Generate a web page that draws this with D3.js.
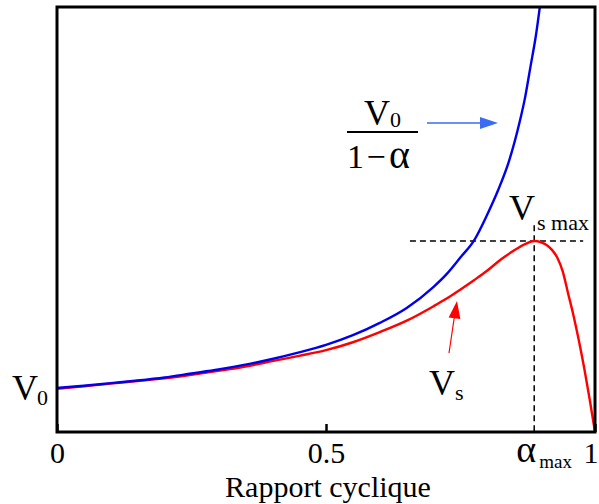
<!DOCTYPE html>
<html>
<head>
<meta charset="utf-8">
<script src="https://cdn.jsdelivr.net/npm/d3@7/dist/d3.min.js"></script>
<style>
  html, body { margin: 0; padding: 0; background: #fff; }
  svg { display: block; }
  text { font-family: "Liberation Serif", "Times New Roman", Times, serif; fill: #000; }
</style>
</head>
<body>
<svg id="chart" width="599" height="504"></svg>
<script>
// ---- Data (duty cycle alpha, output voltage in units of V0) ----
const alphaIdeal = [0, 0.05, 0.1, 0.15, 0.2, 0.25, 0.3, 0.35, 0.4, 0.45, 0.5, 0.55, 0.6, 0.65, 0.7, 0.725, 0.75, 0.775, 0.8, 0.82, 0.84, 0.86, 0.87, 0.88, 0.89, 0.9];
const vIdeal      = [1.0, 1.05, 1.11, 1.17, 1.24, 1.33, 1.42, 1.53, 1.66, 1.81, 1.98, 2.2, 2.48, 2.82, 3.3, 3.6, 3.97, 4.35, 4.95, 5.5, 6.15, 7.05, 7.6, 8.3, 9.0, 9.9];

const alphaReal = [0, 0.05, 0.1, 0.15, 0.2, 0.25, 0.3, 0.35, 0.4, 0.45, 0.5, 0.55, 0.6, 0.65, 0.7, 0.725, 0.75, 0.775, 0.8, 0.825, 0.85, 0.87, 0.887, 0.9, 0.91, 0.92, 0.93, 0.94, 0.95, 0.96, 0.97, 0.98, 0.99, 1.0];
const vReal      = [0.98, 1.04, 1.1, 1.16, 1.22, 1.3, 1.39, 1.49, 1.61, 1.73, 1.86, 2.04, 2.27, 2.53, 2.86, 3.04, 3.24, 3.45, 3.67, 3.92, 4.13, 4.27, 4.34, 4.31, 4.25, 4.14, 3.96, 3.65, 3.15, 2.65, 2.08, 1.45, 0.75, 0];

const xTicks = [0, 0.5, 1];
const xTickLabels = ["0", "0.5", "1"];
const alphaMax = 0.887;
const vsMax = 4.34;
const yMax = 9.66;

// ---- Layout ----
const plotL = 57, plotR = 595, plotT = 7, plotB = 432;
const svg = d3.select("#chart");
const x = d3.scaleLinear().domain([0, 1]).range([plotL, plotR]);
const y = d3.scaleLinear().domain([0, yMax]).range([plotB, plotT]);

svg.append("defs").append("clipPath").attr("id", "plotclip")
  .append("rect").attr("x", plotL).attr("y", plotT).attr("width", plotR - plotL).attr("height", plotB - plotT);

// dashed guides for max
svg.append("line")
  .attr("x1", x(0.656)).attr("x2", x(0.978))
  .attr("y1", y(vsMax)).attr("y2", y(vsMax))
  .attr("stroke", "#000").attr("stroke-width", 1.5).attr("stroke-dasharray", "6,4");
svg.append("line")
  .attr("x1", x(alphaMax)).attr("x2", x(alphaMax))
  .attr("y1", y(4.7)).attr("y2", y(0))
  .attr("stroke", "#000").attr("stroke-width", 1.5).attr("stroke-dasharray", "6,4");

const lineGen = d3.line().curve(d3.curveMonotoneX);
const gPlot = svg.append("g").attr("clip-path", "url(#plotclip)");

gPlot.append("path")
  .attr("d", lineGen(alphaReal.map((a, i) => [x(a), y(vReal[i])])))
  .attr("fill", "none").attr("stroke", "#ff0000").attr("stroke-width", 2.4);

gPlot.append("path")
  .attr("d", lineGen(alphaIdeal.map((a, i) => [x(a), y(vIdeal[i])])))
  .attr("fill", "none").attr("stroke", "#0000ee").attr("stroke-width", 2.4);

// Frame
svg.append("rect")
  .attr("x", plotL).attr("y", plotT).attr("width", plotR - plotL).attr("height", plotB - plotT)
  .attr("fill", "none").attr("stroke", "#000").attr("stroke-width", 3);

// x axis
const axis = d3.axisBottom(x)
  .tickValues(xTicks)
  .tickFormat((d, i) => xTickLabels[i])
  .tickSizeInner(-8).tickSizeOuter(0).tickPadding(10);
const gAxis = svg.append("g").attr("transform", `translate(0,${plotB})`).call(axis);
gAxis.select(".domain").remove();
gAxis.selectAll(".tick line").attr("stroke", "#000").attr("stroke-width", 2.5);
gAxis.selectAll(".tick text")
  .attr("font-size", 30)
  .attr("font-family", '"Liberation Serif", "Times New Roman", serif')
  .attr("fill", "#000");
gAxis.selectAll(".tick text").filter((d) => d === 1)
  .attr("text-anchor", "end").attr("dx", 3);

// Axis title
svg.append("text").attr("x", 328).attr("y", 497).attr("text-anchor", "middle")
  .attr("font-size", 30).text("Rapport cyclique");

// alpha_max label
svg.append("text").attr("x", x(alphaMax) - 18).attr("y", 462).attr("font-size", 38).text("α");
svg.append("text").attr("x", x(alphaMax) + 5).attr("y", 468).attr("font-size", 19).text("max");

// V0 on the left
svg.append("text").attr("x", 12).attr("y", 400).attr("font-size", 36).text("V");
svg.append("text").attr("x", 37).attr("y", 405).attr("font-size", 22).text("0");

// Vs max label
svg.append("text").attr("x", 509).attr("y", 220).attr("font-size", 36).text("V");
svg.append("text").attr("x", 537).attr("y", 230).attr("font-size", 22).text("s max");

// Vs label
svg.append("text").attr("x", 429).attr("y", 395).attr("font-size", 36).text("V");
svg.append("text").attr("x", 455).attr("y", 400).attr("font-size", 22).text("s");

// Fraction V0 / (1 - alpha)
svg.append("text").attr("x", 364).attr("y", 125).attr("font-size", 36).text("V");
svg.append("text").attr("x", 390).attr("y", 127).attr("font-size", 22).text("0");
svg.append("line").attr("x1", 347).attr("x2", 418).attr("y1", 132).attr("y2", 132)
  .attr("stroke", "#000").attr("stroke-width", 1.8);
svg.append("text").attr("x", 347).attr("y", 168).attr("font-size", 34).text("1");
svg.append("text").attr("x", 376).attr("y", 168).attr("font-size", 34).attr("text-anchor", "middle").text("−");
svg.append("text").attr("x", 389).attr("y", 168).attr("font-size", 40).text("α");

// Blue arrow
const blueArrow = "#3b6cf2";
svg.append("line").attr("x1", 427).attr("x2", 482).attr("y1", 123).attr("y2", 123)
  .attr("stroke", blueArrow).attr("stroke-width", 1.6);
svg.append("path").attr("d", "M480,117 L498,123 L480,129 Z").attr("fill", blueArrow);

// Red arrow
svg.append("line").attr("x1", 449).attr("y1", 353).attr("x2", 454.5).attr("y2", 316)
  .attr("stroke", "#ff0000").attr("stroke-width", 1.2);
svg.append("path").attr("d", "M457,301 L448.6,317.5 L460.4,319 Z").attr("fill", "#ff0000");
</script>
</body>
</html>
